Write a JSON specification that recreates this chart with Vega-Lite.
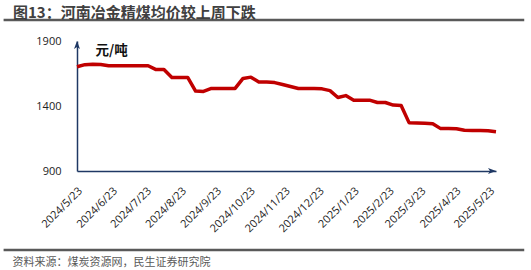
{
  "$schema": "https://vega.github.io/schema/vega-lite/v6.json",
  "width": 419,
  "height": 130,
  "autosize": {"type": "none"},
  "padding": {"left": 77, "top": 41, "right": 35, "bottom": 99},
  "background": "white",
  "config": {"view": {"stroke": null}, "font": "Noto Sans CJK SC"},
  "title": {
    "text": "图13：河南冶金精煤均价较上周下跌",
    "anchor": "start",
    "frame": "group",
    "dx": -64,
    "dy": 6,
    "offset": 4,
    "fontSize": 15,
    "fontWeight": "bold",
    "color": "#404040",
    "font": "Noto Sans CJK SC"
  },
  "resolve": {"scale": {"x": "independent", "y": "independent"}, "axis": {"x": "independent", "y": "independent"}},
  "datasets": {
    "price": [
      {"date": "2024/05/20", "price": 1702},
      {"date": "2024/05/27", "price": 1718},
      {"date": "2024/06/03", "price": 1722},
      {"date": "2024/06/10", "price": 1720},
      {"date": "2024/06/17", "price": 1710},
      {"date": "2024/06/24", "price": 1710},
      {"date": "2024/07/01", "price": 1710},
      {"date": "2024/07/08", "price": 1710},
      {"date": "2024/07/15", "price": 1710},
      {"date": "2024/07/22", "price": 1710},
      {"date": "2024/07/29", "price": 1680},
      {"date": "2024/08/05", "price": 1680},
      {"date": "2024/08/12", "price": 1620},
      {"date": "2024/08/19", "price": 1620},
      {"date": "2024/08/26", "price": 1620},
      {"date": "2024/09/02", "price": 1515},
      {"date": "2024/09/09", "price": 1512},
      {"date": "2024/09/16", "price": 1535},
      {"date": "2024/09/23", "price": 1535},
      {"date": "2024/09/30", "price": 1535},
      {"date": "2024/10/07", "price": 1535},
      {"date": "2024/10/14", "price": 1612},
      {"date": "2024/10/21", "price": 1622},
      {"date": "2024/10/28", "price": 1585},
      {"date": "2024/11/04", "price": 1585},
      {"date": "2024/11/11", "price": 1580},
      {"date": "2024/11/18", "price": 1565},
      {"date": "2024/11/25", "price": 1550},
      {"date": "2024/12/02", "price": 1535},
      {"date": "2024/12/09", "price": 1535},
      {"date": "2024/12/16", "price": 1535},
      {"date": "2024/12/23", "price": 1532},
      {"date": "2024/12/30", "price": 1518},
      {"date": "2025/01/06", "price": 1465},
      {"date": "2025/01/13", "price": 1480},
      {"date": "2025/01/20", "price": 1445},
      {"date": "2025/01/27", "price": 1445},
      {"date": "2025/02/03", "price": 1445},
      {"date": "2025/02/10", "price": 1427},
      {"date": "2025/02/17", "price": 1427},
      {"date": "2025/02/24", "price": 1407},
      {"date": "2025/03/03", "price": 1404},
      {"date": "2025/03/10", "price": 1272},
      {"date": "2025/03/17", "price": 1270},
      {"date": "2025/03/24", "price": 1267},
      {"date": "2025/03/31", "price": 1264},
      {"date": "2025/04/07", "price": 1226},
      {"date": "2025/04/14", "price": 1226},
      {"date": "2025/04/21", "price": 1225},
      {"date": "2025/04/28", "price": 1213},
      {"date": "2025/05/05", "price": 1212},
      {"date": "2025/05/12", "price": 1211},
      {"date": "2025/05/19", "price": 1209},
      {"date": "2025/05/26", "price": 1202}
    ]
  },
  "layer": [
    {
      "data": {"name": "price"},
      "mark": {"type": "line", "color": "#C00000", "strokeWidth": 3.5, "strokeJoin": "round"},
      "encoding": {
        "x": {
          "field": "date",
          "type": "temporal",
          "scale": {
            "domain": [
              {"year": 2024, "month": 5, "date": 20},
              {"year": 2025, "month": 5, "date": 26}
            ]
          },
          "axis": {
            "values": [
              {"year": 2024, "month": 5, "date": 23},
              {"year": 2024, "month": 6, "date": 23},
              {"year": 2024, "month": 7, "date": 23},
              {"year": 2024, "month": 8, "date": 23},
              {"year": 2024, "month": 9, "date": 23},
              {"year": 2024, "month": 10, "date": 23},
              {"year": 2024, "month": 11, "date": 23},
              {"year": 2024, "month": 12, "date": 23},
              {"year": 2025, "month": 1, "date": 23},
              {"year": 2025, "month": 2, "date": 23},
              {"year": 2025, "month": 3, "date": 23},
              {"year": 2025, "month": 4, "date": 23},
              {"year": 2025, "month": 5, "date": 23}
            ],
            "format": "%Y/%-m/%-d",
            "labelAngle": -45,
            "labelAlign": "right",
            "labelBaseline": "middle",
            "labelPadding": 18,
            "labelOverlap": false,
            "labelFlush": false,
            "labelBound": false,
            "labelFontSize": 11,
            "labelFont": "Open Sans",
            "labelColor": "#222222",
            "ticks": false,
            "grid": false,
            "domainColor": "#1F3864",
            "domainWidth": 1.5,
            "title": "资料来源：煤炭资源网，民生证券研究院",
            "titleX": -65,
            "titleY": 91,
            "titleAlign": "left",
            "titleBaseline": "middle",
            "titleFontSize": 11,
            "titleFontWeight": "normal",
            "titleColor": "#595959",
            "titleFont": "Noto Sans CJK SC"
          }
        },
        "y": {
          "field": "price",
          "type": "quantitative",
          "scale": {"domain": [900, 1900], "nice": false, "zero": false},
          "axis": {
            "values": [900, 1400, 1900],
            "format": "d",
            "ticks": false,
            "grid": false,
            "domainColor": "#1F3864",
            "domainWidth": 1.5,
            "labelPadding": 16,
            "labelFontSize": 11,
            "labelFont": "Open Sans",
            "labelColor": "#222222",
            "title": "元/吨",
            "titleAngle": 0,
            "titleX": 18,
            "titleY": 9,
            "titleAlign": "left",
            "titleBaseline": "middle",
            "titleFontSize": 13.5,
            "titleFontWeight": "bold",
            "titleColor": "#111111",
            "titleFont": "Noto Sans CJK SC"
          }
        }
      }
    },
    {
      "data": {"values": [{}]},
      "mark": {"type": "rule", "color": "#595959", "strokeWidth": 2.5, "clip": false},
      "encoding": {
        "x": {"datum": {"year": 2024, "month": 3, "date": 16}, "type": "temporal", "axis": null,
              "scale": {"domain": [{"year": 2024, "month": 5, "date": 20}, {"year": 2025, "month": 5, "date": 26}]}},
        "x2": {"datum": {"year": 2025, "month": 6, "date": 20}},
        "y": {"datum": 2061, "type": "quantitative", "axis": null, "scale": {"domain": [900, 1900], "nice": false, "zero": false}}
      }
    },
    {
      "data": {"values": [{}]},
      "mark": {"type": "rule", "color": "#595959", "strokeWidth": 2.5, "clip": false},
      "encoding": {
        "x": {"datum": {"year": 2024, "month": 3, "date": 16}, "type": "temporal", "axis": null,
              "scale": {"domain": [{"year": 2024, "month": 5, "date": 20}, {"year": 2025, "month": 5, "date": 26}]}},
        "x2": {"datum": {"year": 2025, "month": 6, "date": 20}},
        "y": {"datum": 292, "type": "quantitative", "axis": null, "scale": {"domain": [900, 1900], "nice": false, "zero": false}}
      }
    },
    {
      "data": {"values": [{}]},
      "mark": {"type": "point", "shape": "M0,0L0.75,2L0,1.5L-0.75,2Z", "filled": true, "size": 64, "color": "#1F3864", "opacity": 1},
      "encoding": {
        "x": {"datum": {"year": 2024, "month": 5, "date": 20}, "type": "temporal", "axis": null,
              "scale": {"domain": [{"year": 2024, "month": 5, "date": 20}, {"year": 2025, "month": 5, "date": 26}]}},
        "y": {"datum": 1900, "type": "quantitative", "axis": null, "scale": {"domain": [900, 1900], "nice": false, "zero": false}}
      }
    },
    {
      "data": {"values": [{}]},
      "mark": {"type": "point", "shape": "M0,0L-2,-0.75L-1.5,0L-2,0.75Z", "filled": true, "size": 64, "color": "#1F3864", "opacity": 1},
      "encoding": {
        "x": {"datum": {"year": 2025, "month": 5, "date": 26}, "type": "temporal", "axis": null,
              "scale": {"domain": [{"year": 2024, "month": 5, "date": 20}, {"year": 2025, "month": 5, "date": 26}]}},
        "y": {"datum": 900, "type": "quantitative", "axis": null, "scale": {"domain": [900, 1900], "nice": false, "zero": false}}
      }
    }
  ]
}
